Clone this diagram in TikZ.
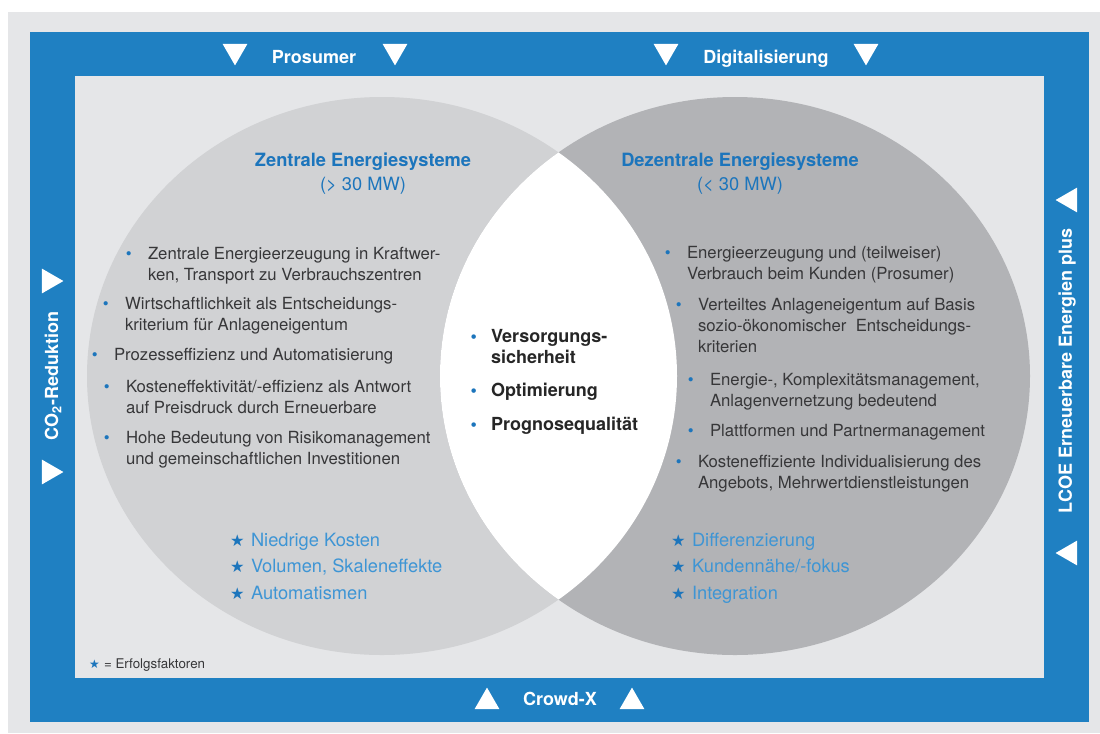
\documentclass[tikz,border=0pt]{standalone}
\usepackage{fontspec}
\setmainfont{TeX Gyre Heros}
\newfontfamily\symfont{DejaVu Sans}
\usepackage{tikz}
\usetikzlibrary{positioning}
\usetikzlibrary{shapes.geometric}

\definecolor{frameblue}{RGB}{31,128,194}
\definecolor{headblue}{RGB}{28,117,188}
\definecolor{starblue}{RGB}{62,149,212}
\definecolor{pagegrey}{RGB}{229,230,232}
\definecolor{leftgrey}{RGB}{209,210,212}
\definecolor{rightgrey}{RGB}{178,179,182}
\definecolor{bodytext}{RGB}{55,55,57}

% hanging blue bullet and star in front of a line
\newcommand{\itemdot}[1]{\llap{\textcolor{headblue}{\textbullet}\hspace{#1}}}
\newcommand{\erfstar}{\llap{\textcolor{headblue}{\symfont\fontsize{11.5}{11}\selectfont ★}\hspace{4.5pt}}}

\begin{document}
\begin{tikzpicture}[
  x=0.025cm, y=-0.025cm,
  every node/.style={inner sep=0pt, outer sep=0pt},
  bodyitem/.style={anchor=north west, align=left, text=bodytext,
    font=\fontsize{11.9}{15}\selectfont},
  coreitem/.style={anchor=north west, align=left, text=black!85,
    font=\bfseries\fontsize{12.8}{15}\selectfont},
  heading/.style={anchor=base, text=headblue, font=\bfseries\fontsize{13}{15}\selectfont},
  subhead/.style={anchor=base, text=headblue, font=\fontsize{13}{15}\selectfont},
  factor/.style={anchor=north west, align=left, text=starblue,
    font=\fontsize{13}{18.85}\selectfont},
  framelabel/.style={text=white, font=\bfseries\fontsize{12.8}{15}\selectfont},
  arrowtri/.style={regular polygon, regular polygon sides=3, fill=white,
    minimum size=0.72cm}
]
\useasboundingbox (0,0) rectangle (1100,733);

% background, blue frame and inner field
\fill[pagegrey] (8,12) rectangle (1100,733);
\fill[frameblue] (30,32) rectangle (1089,722);
\fill[pagegrey] (75,76) rectangle (1044,678);

% the two systems and their overlap
\fill[leftgrey] (382,376) ellipse [x radius=295, y radius=279];
\fill[rightgrey] (735,376) ellipse [x radius=295, y radius=279];
\begin{scope}
  \clip (382,376) ellipse [x radius=295, y radius=279];
  \fill[white] (735,376) ellipse [x radius=295, y radius=279];
\end{scope}

% frame labels
\node[framelabel, anchor=base] (prosumer) at (314,63) {Prosumer};
\node[arrowtri, shape border rotate=180] (prosumer-l) at (235,51) {};
\node[arrowtri, shape border rotate=180] (prosumer-r) at (395,51) {};

\node[framelabel, anchor=base] (digital) at (766,63) {Digitalisierung};
\node[arrowtri, shape border rotate=180] (digital-l) at (666,51) {};
\node[arrowtri, shape border rotate=180] (digital-r) at (866,51) {};

\node[framelabel, anchor=base] (crowd) at (560,705) {Crowd-X};
\node[arrowtri] (crowd-l) at (487,702) {};
\node[arrowtri] (crowd-r) at (632,702) {};

\node[framelabel, rotate=90] (co2) at (53,376) {CO\textsubscript{2}-Reduktion};
\node[arrowtri, shape border rotate=-90] (co2-t) at (49,281) {};
\node[arrowtri, shape border rotate=-90] (co2-b) at (49,472) {};

\node[framelabel, rotate=90] (lcoe) at (1067,371) {LCOE Erneuerbare\ Energien plus};
\node[arrowtri, shape border rotate=90] (lcoe-t) at (1070,200) {};
\node[arrowtri, shape border rotate=90] (lcoe-b) at (1070,553) {};

% central systems
\node[heading] (zentral) at (363,166) {Zentrale Energiesysteme};
\node[subhead] (zentral-mw) at (363,190) {(> 30 MW)};

\node[bodyitem] (z1) at (148,247) {\itemdot{11.5pt}Zentrale Energieerzeugung in Kraftwer-\\ken, Transport zu Verbrauchszentren};
\node[bodyitem] (z2) at (125,297) {\itemdot{11.5pt}Wirtschaftlichkeit als Entscheidungs-\\kriterium für Anlageneigentum};
\node[bodyitem] (z3) at (114,348) {\itemdot{11.5pt}Prozesseffizienz und Automatisierung};
\node[bodyitem] (z4) at (126,380) {\itemdot{11.5pt}Kosteneffektivität/-effizienz als Antwort\\auf Preisdruck durch Erneuerbare};
\node[bodyitem] (z5) at (126,431) {\itemdot{11.5pt}Hohe Bedeutung von Risikomanagement\\und gemeinschaftlichen Investitionen};

\node[factor] (z-factors) at (251,533) {\erfstar Niedrige Kosten\\\erfstar Volumen, Skaleneffekte\\\erfstar Automatismen};

% decentral systems
\node[heading] (dezentral) at (740,166) {Dezentrale Energiesysteme};
\node[subhead] (dezentral-mw) at (740,190) {(< 30 MW)};

\node[bodyitem] (d1) at (687,246) {\itemdot{11.5pt}Energieerzeugung und (teilweiser)\\Verbrauch beim Kunden (Prosumer)};
\node[bodyitem] (d2) at (698,298) {\itemdot{11.5pt}Verteiltes Anlageneigentum auf Basis\\sozio-ökonomischer\ \ Entscheidungs-\\kriterien};
\node[bodyitem] (d3) at (710,373) {\itemdot{11.5pt}Energie-, Komplexitätsmanagement,\\Anlagenvernetzung bedeutend};
\node[bodyitem] (d4) at (710,424) {\itemdot{11.5pt}Plattformen und Partnermanagement};
\node[bodyitem] (d5) at (698,455) {\itemdot{11.5pt}Kosteneffiziente Individualisierung des\\Angebots, Mehrwertdienstleistungen};

\node[factor] (d-factors) at (692,533) {\erfstar Differenzierung\\\erfstar Kundennähe/-fokus\\\erfstar Integration};

% overlap
\node[coreitem] (c1) at (491,329) {\itemdot{10pt}Versorgungs-\\sicherheit};
\node[coreitem] (c2) at (491,383) {\itemdot{10pt}Optimierung};
\node[coreitem] (c3) at (491,417) {\itemdot{10pt}Prognosequalität};

% legend
\node[anchor=base west, text=bodytext, font=\fontsize{9.5}{11}\selectfont] (legend) at (104,668)
  {\llap{\textcolor{headblue}{\symfont\fontsize{8.5}{9}\selectfont ★}\hspace{3pt}}= Erfolgsfaktoren};
\end{tikzpicture}
\end{document}
